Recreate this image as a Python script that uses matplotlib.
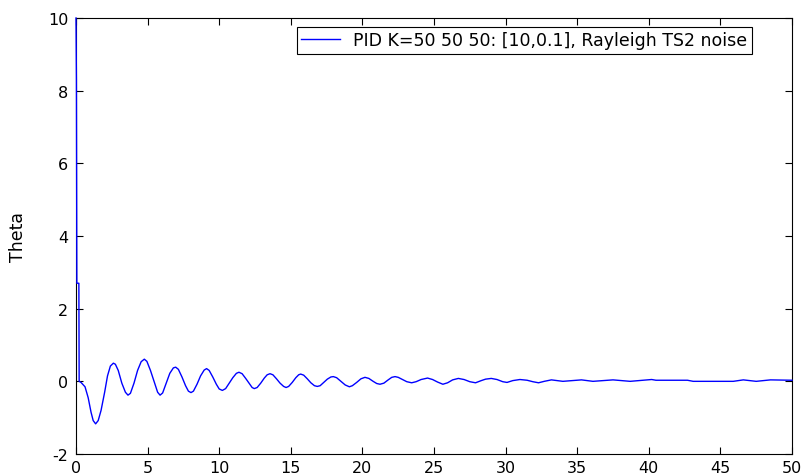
import matplotlib.pyplot as plt
import numpy as np

plt.rcParams['font.family'] = ['DejaVu Sans']
plt.rcParams['axes.unicode_minus'] = False

# temps (s) et theta
t = [0.0, 0.03, 0.06, 0.2, 0.22, 0.35, 0.63, 0.85, 1.05, 1.2, 1.37, 1.55, 1.75,
     2.0, 2.2, 2.4, 2.61, 2.75, 2.95, 3.2, 3.45, 3.63, 3.8, 4.05, 4.3, 4.55,
     4.77, 4.95, 5.2, 5.45, 5.7, 5.87, 6.05, 6.3, 6.55, 6.8, 6.96, 7.15, 7.4,
     7.65, 7.85, 8.03, 8.2, 8.45, 8.7, 8.95, 9.12, 9.3, 9.55, 9.8, 10.0, 10.22,
     10.45, 10.7, 10.95, 11.2, 11.38, 11.6, 11.85, 12.1, 12.3, 12.45, 12.65,
     12.9, 13.15, 13.35, 13.55, 13.75, 14.0, 14.25, 14.5, 14.67, 14.85, 15.1,
     15.35, 15.55, 15.69, 15.9, 16.15, 16.4, 16.65, 16.85, 17.05, 17.3, 17.55,
     17.8, 17.97, 18.2, 18.5, 18.8, 19.09, 19.3, 19.6, 19.9, 20.18, 20.45,
     20.75, 21.0, 21.23, 21.5, 21.8, 22.05, 22.28, 22.5, 22.8, 23.1, 23.44,
     23.75, 24.1, 24.55, 24.9, 25.25, 25.62, 25.95, 26.3, 26.7, 27.1, 27.5,
     27.9, 28.3, 28.6, 29.0, 29.4, 29.8, 30.1, 30.5, 31.0, 31.5, 31.9, 32.3,
     32.7, 33.2, 34.0, 35.3, 36.1, 37.5, 38.7, 40.2, 40.5, 41.5, 42.7, 43.1,
     45.9, 46.6, 47.5, 48.5, 50.0]
theta = [10.0, 8.3, 2.7, 2.7, 0.0, -0.03, -0.15, -0.45, -0.85, -1.08, -1.17,
         -1.08, -0.8, -0.3, 0.15, 0.42, 0.5, 0.47, 0.3, -0.05, -0.3, -0.38,
         -0.33, -0.05, 0.3, 0.54, 0.61, 0.55, 0.3, 0.0, -0.3, -0.38, -0.32,
         -0.05, 0.22, 0.37, 0.39, 0.33, 0.12, -0.12, -0.27, -0.31, -0.27, -0.08,
         0.15, 0.31, 0.35, 0.3, 0.12, -0.08, -0.21, -0.25, -0.2, -0.05, 0.1,
         0.22, 0.25, 0.21, 0.08, -0.06, -0.17, -0.2, -0.17, -0.05, 0.09, 0.18,
         0.21, 0.18, 0.07, -0.05, -0.14, -0.17, -0.14, -0.03, 0.1, 0.18, 0.2,
         0.17, 0.07, -0.04, -0.12, -0.14, -0.12, -0.03, 0.06, 0.12, 0.13, 0.1,
         0.0, -0.1, -0.15, -0.12, -0.03, 0.07, 0.11, 0.08, 0.0, -0.06, -0.08,
         -0.05, 0.04, 0.11, 0.13, 0.11, 0.05, -0.01, -0.04, -0.01, 0.05, 0.09,
         0.05, -0.02, -0.08, -0.04, 0.04, 0.08, 0.05, -0.01, -0.04, 0.02, 0.06,
         0.08, 0.05, -0.01, -0.03, 0.02, 0.05, 0.03, -0.01, -0.04, 0.0, 0.04,
         0.0, 0.04, 0.0, 0.04, 0.0, 0.05, 0.03, 0.03, 0.03, 0.0, 0.0, 0.04, 0.0,
         0.04, 0.03]

xticks = [0, 5, 10, 15, 20, 25, 30, 35, 40, 45, 50]
yticks = [-2, 0, 2, 4, 6, 8, 10]

fig = plt.figure(figsize=(8.03, 4.77), dpi=100)
ax = fig.add_axes([76/803, 22/477, 716/803, 436/477])

ax.plot(t, theta, color='#0000ff', lw=1.0, zorder=3, clip_on=False,
        label='PID K=50 50 50: [10,0.1], Rayleigh TS2 noise')

ax.set_xlim(0, 50)
ax.set_ylim(-2, 10)
ax.set_xticks(xticks)
ax.set_yticks(yticks)
ax.tick_params(direction='in', length=5, width=0.8, top=True, right=True,
               labelsize=11.5)
ax.tick_params(axis='x', pad=4)
ax.tick_params(axis='y', pad=5.5)
for s in ax.spines.values():
    s.set_linewidth(0.8)
ax.set_ylabel('Theta', fontsize=12.5, labelpad=15)

leg = ax.legend(loc='upper right', bbox_to_anchor=(0.944, 0.979), fontsize=12.5,
                fancybox=False, framealpha=1, edgecolor='black',
                handlelength=2.2, handletextpad=0.8, borderpad=0.25,
                borderaxespad=0)
leg.get_frame().set_linewidth(0.8)

fig.savefig('out.png', dpi=100)
